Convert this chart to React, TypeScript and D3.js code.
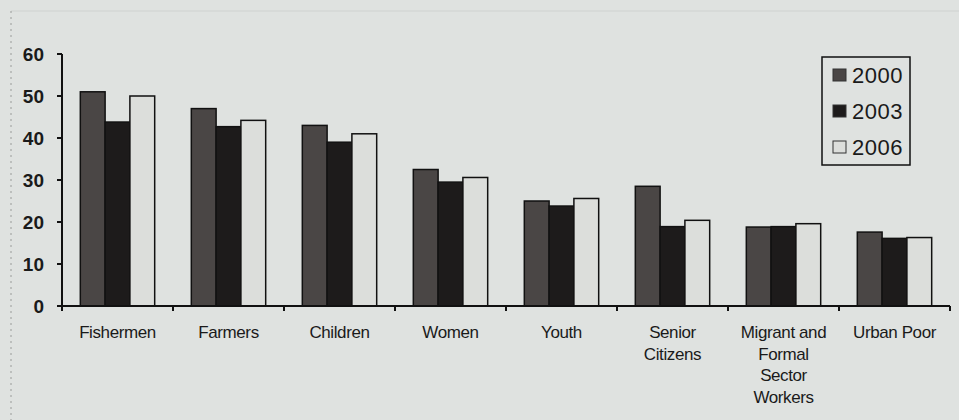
import { useEffect, useRef } from 'react';
import * as d3 from 'd3';

const categories = [
  ['Fishermen'],
  ['Farmers'],
  ['Children'],
  ['Women'],
  ['Youth'],
  ['Senior', 'Citizens'],
  ['Migrant and', 'Formal', 'Sector', 'Workers'],
  ['Urban Poor'],
];
const years = ['2000', '2003', '2006'];
const values2000 = [51, 47, 43, 32.5, 25, 28.5, 18.8, 17.6];
const values2003 = [43.8, 42.7, 39, 29.5, 23.8, 18.9, 18.9, 16.1];
const values2006 = [50, 44.2, 41, 30.6, 25.6, 20.4, 19.6, 16.3];
const yTicks = [0, 10, 20, 30, 40, 50, 60];

const series = [values2000, values2003, values2006];
const fills = ['#4a4645', '#1d1b1b', '#dcdedb'];

export default function App() {
  const svgRef = useRef<SVGSVGElement>(null);
  const width = 959;
  const height = 420;

  useEffect(() => {
    if (!svgRef.current) return;
    const svg = d3.select(svgRef.current);
    svg.selectAll('*').remove();

    const left = 62;
    const right = 950;
    const top = 54;
    const bottom = 306;
    const font = 'Arial, "Liberation Sans", sans-serif';

    svg.append('rect').attr('width', width).attr('height', height).attr('fill', '#dfe2e0');

    // faint frame from the photo
    svg.append('line')
      .attr('x1', 11).attr('x2', width).attr('y1', 11).attr('y2', 11)
      .attr('stroke', '#cfd2d0').attr('stroke-width', 1);
    svg.append('line')
      .attr('x1', 11).attr('x2', 11).attr('y1', 11).attr('y2', height)
      .attr('stroke', '#9a9c9a').attr('stroke-width', 1).attr('stroke-dasharray', '2,4');

    const x = d3.scaleBand<number>()
      .domain(d3.range(categories.length))
      .range([left, right])
      .paddingInner(0.33)
      .paddingOuter(0.165);

    const xs = d3.scaleBand<number>()
      .domain(d3.range(years.length))
      .range([0, x.bandwidth()]);

    const y = d3.scaleLinear().domain([0, 60]).range([bottom, top]);

    const g = svg.append('g');

    series.forEach((vals, si) => {
      g.selectAll(`rect.s${si}`)
        .data(vals)
        .join('rect')
        .attr('x', (_, i) => (x(i) as number) + (xs(si) as number))
        .attr('y', d => y(d))
        .attr('width', xs.bandwidth())
        .attr('height', d => bottom - y(d))
        .attr('fill', fills[si])
        .attr('stroke', '#111')
        .attr('stroke-width', 1.5);
    });

    // y axis
    const yAxis = svg.append('g').attr('transform', `translate(${left},0)`);
    yAxis.append('line')
      .attr('x1', 0).attr('x2', 0).attr('y1', top).attr('y2', bottom)
      .attr('stroke', '#111').attr('stroke-width', 2);
    yAxis.selectAll('line.tick')
      .data(yTicks)
      .join('line')
      .attr('class', 'tick')
      .attr('x1', -5).attr('x2', 0)
      .attr('y1', d => y(d)).attr('y2', d => y(d))
      .attr('stroke', '#111').attr('stroke-width', 2);
    yAxis.selectAll('text')
      .data(yTicks)
      .join('text')
      .attr('x', -18)
      .attr('y', d => y(d))
      .attr('dy', '0.36em')
      .attr('text-anchor', 'end')
      .attr('font-family', font)
      .attr('font-size', 19)
      .attr('font-weight', 'bold')
      .attr('fill', '#1a1a1a')
      .text(d => d);

    // x axis
    const step = x.step();
    svg.append('line')
      .attr('x1', left - 5).attr('x2', right).attr('y1', bottom).attr('y2', bottom)
      .attr('stroke', '#111').attr('stroke-width', 2);
    svg.selectAll('line.xtick')
      .data(d3.range(categories.length + 1))
      .join('line')
      .attr('class', 'xtick')
      .attr('x1', i => left + i * step).attr('x2', i => left + i * step)
      .attr('y1', bottom).attr('y2', bottom + 5)
      .attr('stroke', '#111').attr('stroke-width', 2);

    const labels = svg.append('g');
    categories.forEach((lines, i) => {
      const cx = (x(i) as number) + x.bandwidth() / 2;
      const t = labels.append('text')
        .attr('text-anchor', 'middle')
        .attr('font-family', font)
        .attr('font-size', 17)
        .attr('letter-spacing', '-0.4')
        .attr('fill', '#1a1a1a');
      lines.forEach((ln, li) => {
        t.append('tspan')
          .attr('x', cx)
          .attr('y', 338 + li * 21.5)
          .text(ln);
      });
    });

    // legend
    const lg = svg.append('g').attr('transform', 'translate(822,57)');
    lg.append('rect')
      .attr('width', 88).attr('height', 108)
      .attr('fill', '#dfe2e0').attr('stroke', '#111').attr('stroke-width', 1.5);
    years.forEach((yr, i) => {
      const cy = 18 + i * 36;
      lg.append('rect')
        .attr('x', 11).attr('y', cy - 6).attr('width', 13).attr('height', 12)
        .attr('fill', fills[i]).attr('stroke', '#333').attr('stroke-width', 1);
      lg.append('text')
        .attr('x', 30).attr('y', cy)
        .attr('dy', '0.36em')
        .attr('font-family', font)
        .attr('font-size', 22)
        .attr('letter-spacing', '0.5')
        .attr('fill', '#1a1a1a')
        .text(yr);
    });
  }, []);

  return (
    <svg ref={svgRef} width={width} height={height} style={{ display: 'block', position: 'absolute', left: 0, top: 0 }} />
  );
}
